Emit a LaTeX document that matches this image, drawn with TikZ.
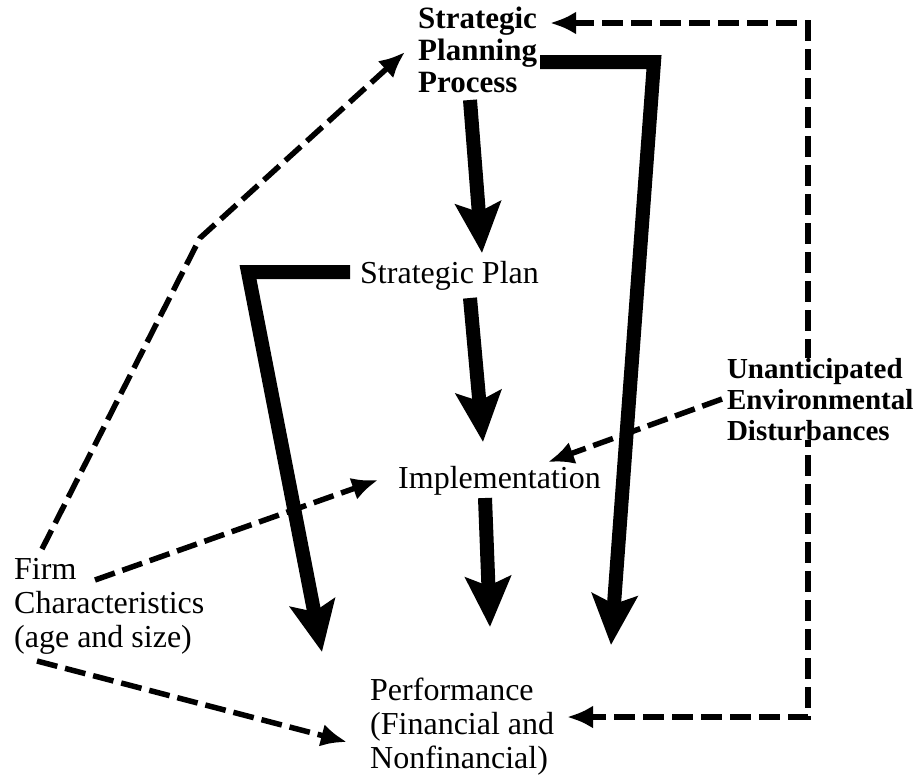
\documentclass[tikz,border=0pt]{standalone}
\usepackage{fontspec}
\setmainfont{Liberation Serif}
\usetikzlibrary{arrows.meta,calc}
\pgfdeclarelayer{lines}
\pgfsetlayers{lines,main}
\begin{document}
\begin{tikzpicture}[x=1pt,y=-1pt,
  txt/.style={anchor=base west,inner sep=0pt,align=left,font=\fontsize{32}{34}\selectfont},
  boldtxt/.style={anchor=base west,inner sep=0pt,align=left,font=\fontsize{31}{32}\selectfont\bfseries},
  uedtxt/.style={anchor=base west,inner sep=0pt,outer sep=0pt,fill=white,align=left,font=\fontsize{29}{31}\selectfont\bfseries},
  heavy/.style={line width=14pt,line join=miter,-{Stealth[length=50pt,width=45pt,inset=9pt]}},
  dashline/.style={line width=5.5pt,dash pattern=on 21pt off 8pt,-{Latex[length=26pt,width=23pt]}},
  dashboth/.style={line width=5.5pt,dash pattern=on 21pt off 8pt,{Latex[length=26pt,width=23pt]}-{Latex[length=26pt,width=23pt]}}]
\useasboundingbox (0,0) rectangle (921,782);

% base west of a multi-line node = baseline of its last line
\node[boldtxt] (spp) at (418,92) {Strategic\\Planning\\Process};
\node[txt] (splan) at (360,283) {Strategic Plan};
\node[txt] (impl) at (398,488) {Implementation};
\node[uedtxt] (ued) at (727,440) {Unanticipated\\Environmental\\Disturbances};
\node[txt] (firm) at (14,647) {Firm\\Characteristics\\(age and size)};
\node[txt] (perf) at (370,768) {Performance\\(Financial and\\Nonfinancial)};

\coordinate (c1) at (200,238);
\coordinate (c4) at (654,62);
\coordinate (c5) at (248,272);
\coordinate (c6) at (808,23);
\coordinate (c7) at (808,717);

\begin{pgfonlayer}{lines}
\fill[white] (0,0) rectangle (921,782);
% heavy solid arrows
\draw[heavy] ($(spp.base west)+(52,8)$) -- ($(splan.base west)+(122,-30)$);
\draw[heavy] ($(splan.base west)+(110,15)$) -- ($(impl.base west)+(85,-46)$);
\draw[heavy] ($(impl.base west)+(87,10)$) -- ($(perf.base west)+(120,-141)$);
\draw[heavy] ($(spp.base west)+(122,-30)$) -- (c4) -- ($(perf.base west)+(241,-123)$);
\draw[heavy] ($(splan.base west)+(-10,-11)$) -- (c5) -- ($(perf.base west)+(-48,-116)$);

% dashed arrows
\draw[dashline] ($(firm.base west)+(28,-98)$) -- (c1) -- ($(spp.base west)+(-13,-40)$);
\draw[dashline] ($(firm.base west)+(81,-67)$) -- ($(impl.base west)+(-20,-8)$);
\draw[dashline] ($(firm.base west)+(23,14)$) -- ($(perf.base west)+(-23,-26)$);
\draw[dashline] ($(ued.base west)+(-5,-41)$) -- ($(impl.base west)+(150,-26)$);
\draw[dashboth] ($(spp.base west)+(132,-69)$) -- (c6) -- (c7) -- ($(perf.base west)+(197,-51)$);
\end{pgfonlayer}
\end{tikzpicture}
\end{document}
